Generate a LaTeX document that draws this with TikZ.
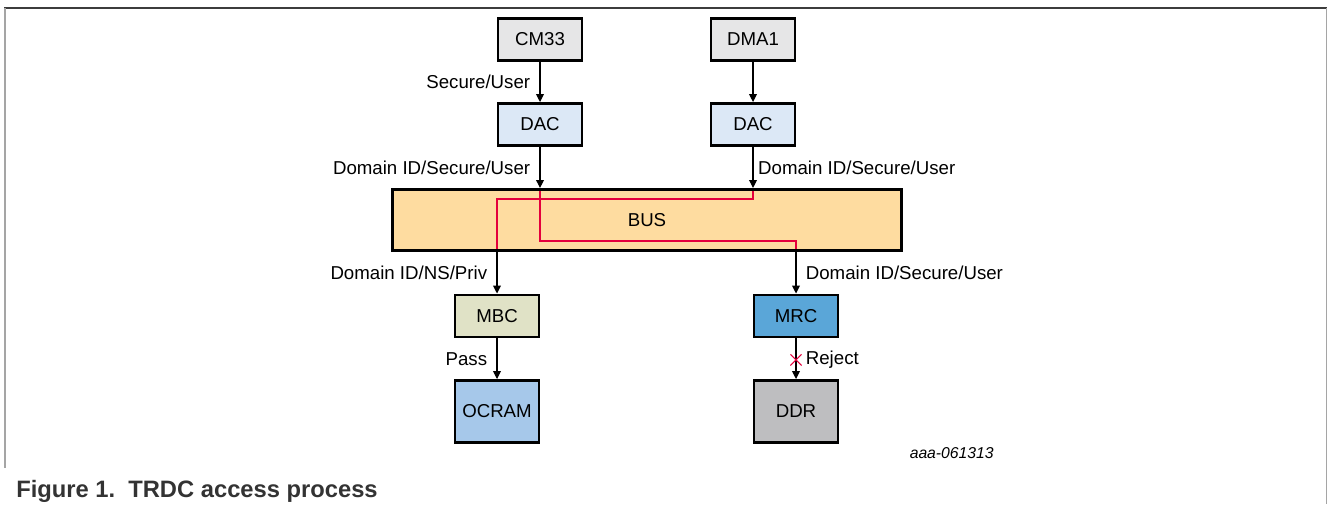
\documentclass[tikz,border=0pt]{standalone}
\usepackage{fontspec}
\setmainfont{Liberation Sans}
\usetikzlibrary{arrows.meta,calc}
\definecolor{nxpred}{RGB}{228,0,60}
\definecolor{cmgray}{RGB}{230,230,231}
\definecolor{dacblue}{RGB}{220,232,246}
\definecolor{busorange}{RGB}{254,220,160}
\definecolor{mbcbeige}{RGB}{224,226,198}
\definecolor{mrcblue}{RGB}{90,166,216}
\definecolor{ocramblue}{RGB}{166,200,234}
\definecolor{ddrgray}{RGB}{190,190,192}
\definecolor{framedark}{RGB}{60,60,60}
\definecolor{framegray}{RGB}{165,165,165}
\definecolor{capgray}{RGB}{51,51,51}
\begin{document}
\begin{tikzpicture}[x=0.75pt,y=-0.75pt,
  box/.style={draw=black,line width=2pt,minimum width=63pt,minimum height=31.7pt,inner sep=0pt,font=\fontsize{14}{16}\selectfont},
  arr/.style={line width=0.8pt,-{Triangle[width=5.8pt,length=6pt]}},
  lbl/.style={font=\fontsize{14}{16}\selectfont,text=black},
  redline/.style={draw=nxpred,line width=0.8pt}]
\useasboundingbox (0,0) rectangle (1328,504);
% frame
\draw[draw=framedark,line width=1.5pt] (4,8) -- (1327,8);
\draw[draw=framegray,line width=1.2pt] (5,8) -- (5,468);
\draw[draw=framegray,line width=1.2pt] (1326.5,8) -- (1326.5,504);
% boxes
\node[box,fill=cmgray] (CM33) at (540,39.5) {CM33};
\node[box,fill=cmgray] (DMA1) at (753,39.5) {DMA1};
\node[box,fill=dacblue] (DAC1) at (540,124.5) {DAC};
\node[box,fill=dacblue] (DAC2) at (753,124.5) {DAC};
\node[box,fill=busorange,minimum width=382pt,minimum height=46pt] (BUS) at (647,220) {BUS};
\node[box,fill=mbcbeige] (MBC) at (497,316) {MBC};
\node[box,fill=mrcblue] (MRC) at (796,316) {MRC};
\node[box,fill=ocramblue,minimum height=46.7pt] (OCRAM) at (497,411.5) {OCRAM};
\node[box,fill=ddrgray,minimum height=46.7pt] (DDR) at (796,411.5) {DDR};
% top arrows
\draw[arr] (CM33) -- node[lbl,left,inner sep=7pt] (l1) {Secure/User} (DAC1);
\draw[arr] (DMA1) -- (DAC2);
\draw[arr] (DAC1) -- node[lbl,left,inner sep=7pt] (l2) {Domain ID/Secure/User} (DAC1 |- BUS.north);
\draw[arr] (DAC2) -- node[lbl,right,inner sep=3.5pt] (l3) {Domain ID/Secure/User} (DAC2 |- BUS.north);
% red paths through the bus
\coordinate (r1) at (540,241);
\coordinate (r2) at (796,241);
\coordinate (b1) at (753,199);
\coordinate (b2) at (497,199);
\draw[redline] ($(DAC1 |- BUS.north)+(0,-2pt)$) -- (r1) -- (r2) -- ($(r2 |- BUS.south)+(0,2pt)$);
\draw[redline] ($(DAC2 |- BUS.north)+(0,-2pt)$) -- (b1) -- (b2) -- ($(b2 |- BUS.south)+(0,2pt)$);
% lower arrows
\draw[arr] (b2 |- BUS.south) -- node[lbl,left,inner sep=7pt] (l4) {Domain ID/NS/Priv} (MBC);
\draw[arr] (r2 |- BUS.south) -- node[lbl,right,inner sep=7pt] (l5) {Domain ID/Secure/User} (MRC);
\draw[arr] (MBC) -- node[lbl,left,inner sep=7pt] (l6) {Pass} (OCRAM);
\draw[arr] (MRC) -- coordinate[pos=0.53] (xc) node[lbl,right,inner sep=7pt,pos=0.53] (l7) {Reject} (DDR);
\draw[redline] ($(xc)+(-4.2pt,-4.2pt)$) -- ($(xc)+(4.2pt,4.2pt)$)
               ($(xc)+(-4.2pt,4.2pt)$) -- ($(xc)+(4.2pt,-4.2pt)$);
% tag and caption
\node[font=\fontsize{11.8}{14}\selectfont\itshape,anchor=east,inner sep=0pt] (tag) at (994,453) {aaa-061313};
\node[font=\fontsize{17.8}{20}\selectfont\bfseries,text=capgray,anchor=base west,inner sep=0pt] (cap) at (16,497) {Figure 1.\ \ TRDC access process};
\end{tikzpicture}
\end{document}
